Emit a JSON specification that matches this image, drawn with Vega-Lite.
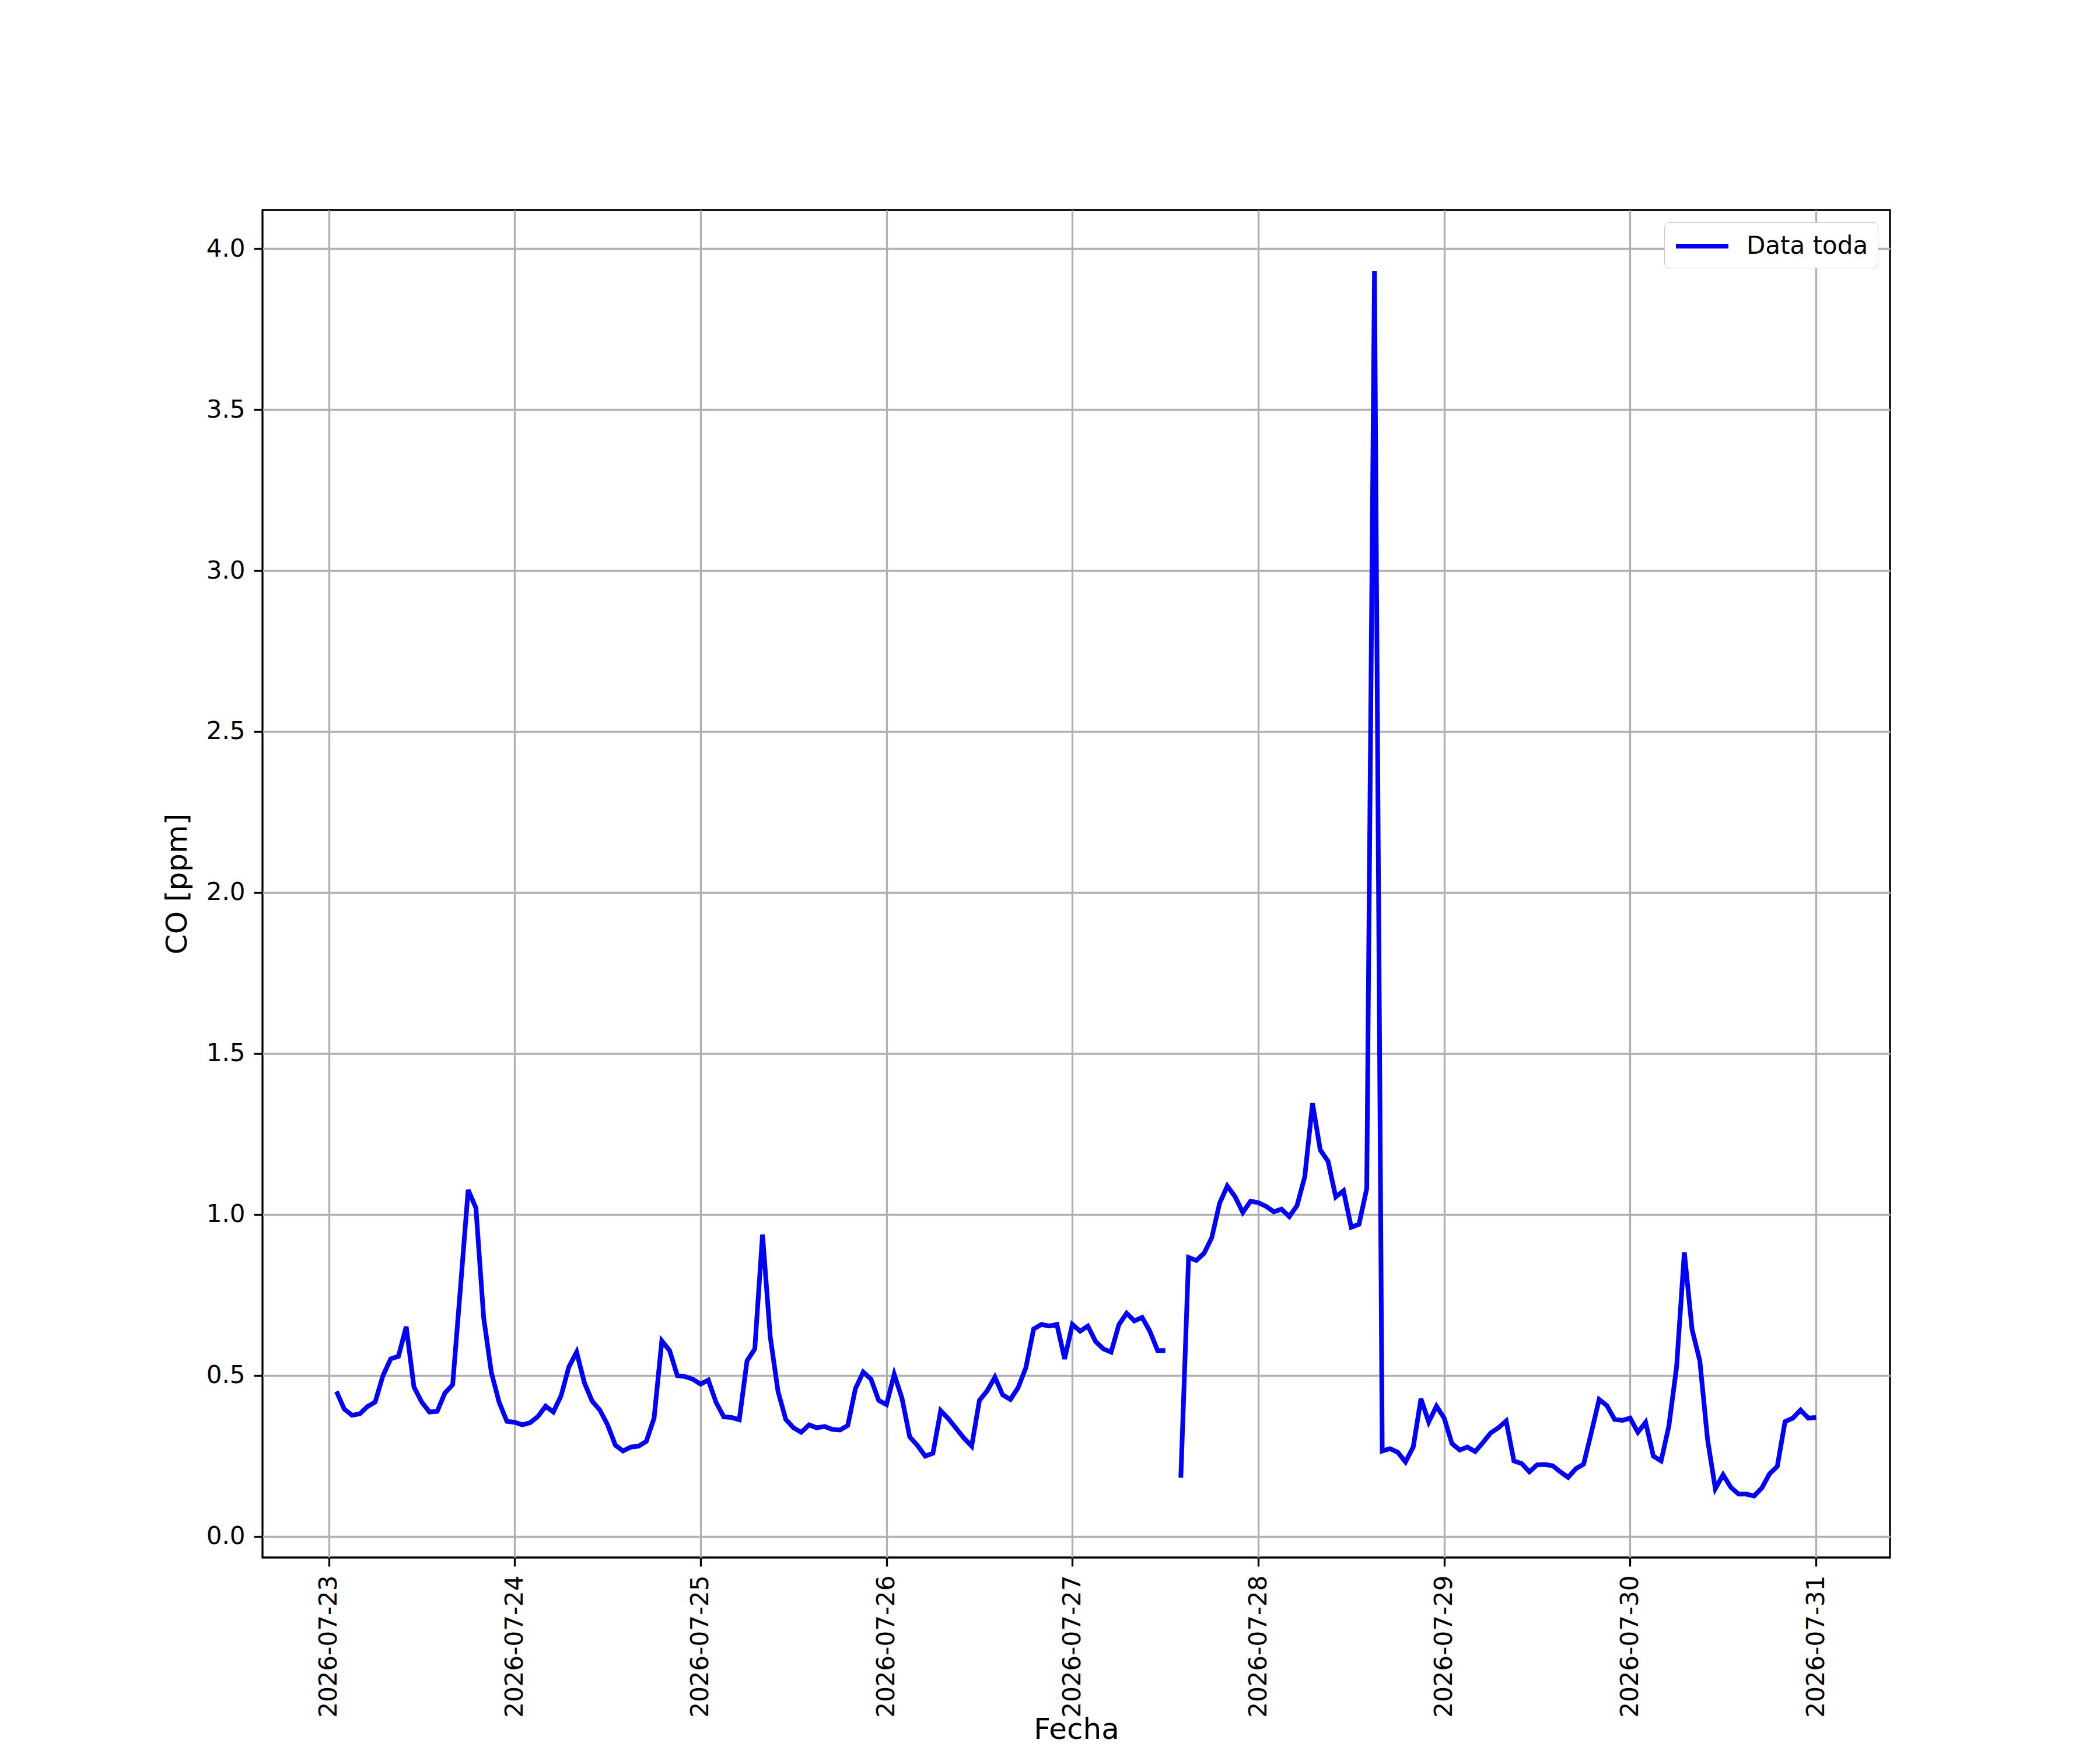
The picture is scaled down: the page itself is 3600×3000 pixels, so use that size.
{
  "$schema": "https://vega.github.io/schema/vega-lite/v6.json",
  "width": 2790,
  "height": 2310,
  "autosize": {"type": "none"},
  "padding": {"left": 450, "top": 360, "right": 360, "bottom": 330},
  "background": "white",
  "config": {
    "font": "DejaVu Sans",
    "view": {"stroke": "black", "strokeWidth": 3.3},
    "axis": {
      "domain": false,
      "grid": true,
      "gridColor": "#b0b0b0",
      "gridWidth": 3.3,
      "gridOpacity": 1,
      "ticks": true,
      "tickColor": "black",
      "tickWidth": 3.3,
      "tickSize": 15,
      "labelFont": "DejaVu Sans",
      "labelFontSize": 42,
      "labelColor": "black",
      "labelPadding": 15,
      "labelLimit": 0,
      "titleFont": "DejaVu Sans",
      "titleFontSize": 50,
      "titleFontWeight": "normal",
      "titleColor": "black"
    },
    "legend": {
      "labelFont": "DejaVu Sans",
      "labelFontSize": 42,
      "labelColor": "black",
      "labelLimit": 0
    }
  },
  "data": {
    "values": [
      {"t":"2026-07-23T01:00","co":0.45},{"t":"2026-07-23T02:00","co":0.395},{"t":"2026-07-23T03:00","co":0.376},{"t":"2026-07-23T04:00","co":0.38},{"t":"2026-07-23T05:00","co":0.403},{"t":"2026-07-23T06:00","co":0.417},{"t":"2026-07-23T07:00","co":0.499},{"t":"2026-07-23T08:00","co":0.551},{"t":"2026-07-23T09:00","co":0.559},{"t":"2026-07-23T10:00","co":0.651},{"t":"2026-07-23T11:00","co":0.464},{"t":"2026-07-23T12:00","co":0.417},{"t":"2026-07-23T13:00","co":0.386},{"t":"2026-07-23T14:00","co":0.388},{"t":"2026-07-23T15:00","co":0.445},{"t":"2026-07-23T16:00","co":0.471},{"t":"2026-07-23T17:00","co":0.771},{"t":"2026-07-23T18:00","co":1.076},{"t":"2026-07-23T19:00","co":1.02},{"t":"2026-07-23T20:00","co":0.679},{"t":"2026-07-23T21:00","co":0.508},{"t":"2026-07-23T22:00","co":0.416},{"t":"2026-07-23T23:00","co":0.357},
      {"t":"2026-07-24T00:00","co":0.354},{"t":"2026-07-24T01:00","co":0.346},{"t":"2026-07-24T02:00","co":0.353},{"t":"2026-07-24T03:00","co":0.372},{"t":"2026-07-24T04:00","co":0.404},{"t":"2026-07-24T05:00","co":0.386},{"t":"2026-07-24T06:00","co":0.437},{"t":"2026-07-24T07:00","co":0.526},{"t":"2026-07-24T08:00","co":0.572},{"t":"2026-07-24T09:00","co":0.477},{"t":"2026-07-24T10:00","co":0.42},{"t":"2026-07-24T11:00","co":0.392},{"t":"2026-07-24T12:00","co":0.346},{"t":"2026-07-24T13:00","co":0.283},{"t":"2026-07-24T14:00","co":0.265},{"t":"2026-07-24T15:00","co":0.277},{"t":"2026-07-24T16:00","co":0.28},{"t":"2026-07-24T17:00","co":0.295},{"t":"2026-07-24T18:00","co":0.367},{"t":"2026-07-24T19:00","co":0.607},{"t":"2026-07-24T20:00","co":0.577},{"t":"2026-07-24T21:00","co":0.499},{"t":"2026-07-24T22:00","co":0.496},{"t":"2026-07-24T23:00","co":0.488},
      {"t":"2026-07-25T00:00","co":0.473},{"t":"2026-07-25T01:00","co":0.485},{"t":"2026-07-25T02:00","co":0.416},{"t":"2026-07-25T03:00","co":0.371},{"t":"2026-07-25T04:00","co":0.369},{"t":"2026-07-25T05:00","co":0.362},{"t":"2026-07-25T06:00","co":0.545},{"t":"2026-07-25T07:00","co":0.582},{"t":"2026-07-25T08:00","co":0.937},{"t":"2026-07-25T09:00","co":0.619},{"t":"2026-07-25T10:00","co":0.45},{"t":"2026-07-25T11:00","co":0.363},{"t":"2026-07-25T12:00","co":0.337},{"t":"2026-07-25T13:00","co":0.323},{"t":"2026-07-25T14:00","co":0.346},{"t":"2026-07-25T15:00","co":0.337},{"t":"2026-07-25T16:00","co":0.341},{"t":"2026-07-25T17:00","co":0.332},{"t":"2026-07-25T18:00","co":0.33},{"t":"2026-07-25T19:00","co":0.344},{"t":"2026-07-25T20:00","co":0.459},{"t":"2026-07-25T21:00","co":0.51},{"t":"2026-07-25T22:00","co":0.488},{"t":"2026-07-25T23:00","co":0.422},
      {"t":"2026-07-26T00:00","co":0.409},{"t":"2026-07-26T01:00","co":0.503},{"t":"2026-07-26T02:00","co":0.429},{"t":"2026-07-26T03:00","co":0.309},{"t":"2026-07-26T04:00","co":0.282},{"t":"2026-07-26T05:00","co":0.249},{"t":"2026-07-26T06:00","co":0.258},{"t":"2026-07-26T07:00","co":0.39},{"t":"2026-07-26T08:00","co":0.365},{"t":"2026-07-26T09:00","co":0.335},{"t":"2026-07-26T10:00","co":0.305},{"t":"2026-07-26T11:00","co":0.28},{"t":"2026-07-26T12:00","co":0.422},{"t":"2026-07-26T13:00","co":0.452},{"t":"2026-07-26T14:00","co":0.494},{"t":"2026-07-26T15:00","co":0.439},{"t":"2026-07-26T16:00","co":0.425},{"t":"2026-07-26T17:00","co":0.462},{"t":"2026-07-26T18:00","co":0.524},{"t":"2026-07-26T19:00","co":0.644},{"t":"2026-07-26T20:00","co":0.658},{"t":"2026-07-26T21:00","co":0.653},{"t":"2026-07-26T22:00","co":0.658},{"t":"2026-07-26T23:00","co":0.551},
      {"t":"2026-07-27T00:00","co":0.658},{"t":"2026-07-27T01:00","co":0.637},{"t":"2026-07-27T02:00","co":0.653},{"t":"2026-07-27T03:00","co":0.605},{"t":"2026-07-27T04:00","co":0.582},{"t":"2026-07-27T05:00","co":0.572},{"t":"2026-07-27T06:00","co":0.657},{"t":"2026-07-27T07:00","co":0.693},{"t":"2026-07-27T08:00","co":0.669},{"t":"2026-07-27T09:00","co":0.68},{"t":"2026-07-27T10:00","co":0.637},{"t":"2026-07-27T11:00","co":0.577},{"t":"2026-07-27T12:00","co":0.577},{"t":"2026-07-27T13:00","co":null},{"t":"2026-07-27T14:00","co":0.182},{"t":"2026-07-27T15:00","co":0.866},{"t":"2026-07-27T16:00","co":0.857},{"t":"2026-07-27T17:00","co":0.879},{"t":"2026-07-27T18:00","co":0.928},{"t":"2026-07-27T19:00","co":1.034},{"t":"2026-07-27T20:00","co":1.088},{"t":"2026-07-27T21:00","co":1.055},{"t":"2026-07-27T22:00","co":1.006},{"t":"2026-07-27T23:00","co":1.041},
      {"t":"2026-07-28T00:00","co":1.036},{"t":"2026-07-28T01:00","co":1.025},{"t":"2026-07-28T02:00","co":1.008},{"t":"2026-07-28T03:00","co":1.016},{"t":"2026-07-28T04:00","co":0.993},{"t":"2026-07-28T05:00","co":1.027},{"t":"2026-07-28T06:00","co":1.117},{"t":"2026-07-28T07:00","co":1.345},{"t":"2026-07-28T08:00","co":1.2},{"t":"2026-07-28T09:00","co":1.165},{"t":"2026-07-28T10:00","co":1.054},{"t":"2026-07-28T11:00","co":1.073},{"t":"2026-07-28T12:00","co":0.96},{"t":"2026-07-28T13:00","co":0.969},{"t":"2026-07-28T14:00","co":1.08},{"t":"2026-07-28T15:00","co":3.93},{"t":"2026-07-28T16:00","co":0.265},{"t":"2026-07-28T17:00","co":0.272},{"t":"2026-07-28T18:00","co":0.261},{"t":"2026-07-28T19:00","co":0.231},{"t":"2026-07-28T20:00","co":0.277},{"t":"2026-07-28T21:00","co":0.427},{"t":"2026-07-28T22:00","co":0.355},{"t":"2026-07-28T23:00","co":0.404},
      {"t":"2026-07-29T00:00","co":0.367},{"t":"2026-07-29T01:00","co":0.288},{"t":"2026-07-29T02:00","co":0.268},{"t":"2026-07-29T03:00","co":0.277},{"t":"2026-07-29T04:00","co":0.263},{"t":"2026-07-29T05:00","co":0.291},{"t":"2026-07-29T06:00","co":0.321},{"t":"2026-07-29T07:00","co":0.337},{"t":"2026-07-29T08:00","co":0.358},{"t":"2026-07-29T09:00","co":0.234},{"t":"2026-07-29T10:00","co":0.226},{"t":"2026-07-29T11:00","co":0.2},{"t":"2026-07-29T12:00","co":0.222},{"t":"2026-07-29T13:00","co":0.223},{"t":"2026-07-29T14:00","co":0.219},{"t":"2026-07-29T15:00","co":0.2},{"t":"2026-07-29T16:00","co":0.183},{"t":"2026-07-29T17:00","co":0.21},{"t":"2026-07-29T18:00","co":0.224},{"t":"2026-07-29T19:00","co":0.323},{"t":"2026-07-29T20:00","co":0.425},{"t":"2026-07-29T21:00","co":0.406},{"t":"2026-07-29T22:00","co":0.363},{"t":"2026-07-29T23:00","co":0.36},
      {"t":"2026-07-30T00:00","co":0.367},{"t":"2026-07-30T01:00","co":0.323},{"t":"2026-07-30T02:00","co":0.354},{"t":"2026-07-30T03:00","co":0.249},{"t":"2026-07-30T04:00","co":0.234},{"t":"2026-07-30T05:00","co":0.342},{"t":"2026-07-30T06:00","co":0.526},{"t":"2026-07-30T07:00","co":0.882},{"t":"2026-07-30T08:00","co":0.642},{"t":"2026-07-30T09:00","co":0.545},{"t":"2026-07-30T10:00","co":0.3},{"t":"2026-07-30T11:00","co":0.148},{"t":"2026-07-30T12:00","co":0.191},{"t":"2026-07-30T13:00","co":0.152},{"t":"2026-07-30T14:00","co":0.131},{"t":"2026-07-30T15:00","co":0.131},{"t":"2026-07-30T16:00","co":0.125},{"t":"2026-07-30T17:00","co":0.15},{"t":"2026-07-30T18:00","co":0.194},{"t":"2026-07-30T19:00","co":0.217},{"t":"2026-07-30T20:00","co":0.356},{"t":"2026-07-30T21:00","co":0.367},{"t":"2026-07-30T22:00","co":0.392},{"t":"2026-07-30T23:00","co":0.367},
      {"t":"2026-07-31T00:00","co":0.369}
    ]
  },
  "mark": {"type": "line", "strokeWidth": 8, "invalid": "break-paths-show-domains", "clip": true},
  "encoding": {
    "x": {
      "field": "t",
      "type": "temporal",
      "title": "Fecha",
      "scale": {
        "domain": [
          {"year": 2026, "month": 7, "date": 22, "hours": 15, "minutes": 27},
          {"year": 2026, "month": 7, "date": 31, "hours": 9, "minutes": 33}
        ]
      },
      "axis": {
        "values": [
          {"year": 2026, "month": 7, "date": 23},
          {"year": 2026, "month": 7, "date": 24},
          {"year": 2026, "month": 7, "date": 25},
          {"year": 2026, "month": 7, "date": 26},
          {"year": 2026, "month": 7, "date": 27},
          {"year": 2026, "month": 7, "date": 28},
          {"year": 2026, "month": 7, "date": 29},
          {"year": 2026, "month": 7, "date": 30},
          {"year": 2026, "month": 7, "date": 31}
        ],
        "format": "%Y-%m-%d",
        "labelAngle": 270,
        "labelFlush": false,
        "labelOverlap": false,
        "titleY": 270,
        "titleBaseline": "top"
      }
    },
    "y": {
      "field": "co",
      "type": "quantitative",
      "title": "CO [ppm]",
      "scale": {"domain": [-0.066, 4.12], "nice": false, "zero": false},
      "axis": {
        "values": [0, 0.5, 1, 1.5, 2, 2.5, 3, 3.5, 4],
        "format": ".1f",
        "labelFlush": false,
        "labelOverlap": false,
        "titlePadding": 24
      }
    },
    "color": {
      "datum": "Data toda",
      "scale": {"range": ["blue"]},
      "legend": {
        "title": null,
        "orient": "top-right",
        "offset": 21,
        "padding": 16,
        "strokeColor": "#cccccc",
        "fillColor": "white",
        "cornerRadius": 8,
        "symbolType": "M-1,0H3.28",
        "symbolSize": 1764,
        "symbolStrokeWidth": 8,
        "labelOffset": 75
      }
    }
  }
}
